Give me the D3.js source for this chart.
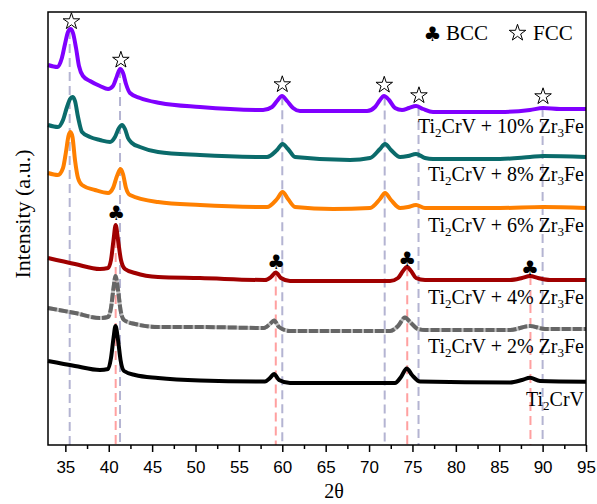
<!DOCTYPE html>
<html>
<head>
<meta charset="utf-8">
<script src="https://cdn.jsdelivr.net/npm/d3@7/dist/d3.min.js"></script>
<style>
    body { margin: 0; background: #fff; }
    svg { display: block; }
    .serif { font-family: "Liberation Serif", "Times New Roman", serif; fill: #000; }
    .x-axis .tick text { font-family: "Liberation Sans", Arial, sans-serif; font-size: 17px; fill: #000; }
    .x-axis .tick line { stroke: #000; stroke-width: 1.5; }
    .x-axis .domain { display: none; }
</style>
</head>
<body>
<svg id="chart" width="597" height="504"></svg>
<script>
// [2theta, intensity] pairs (intensity in arbitrary units)
const ti2crv = [
    [33.0, 84], [36.11, 79], [38.99, 75], [39.92, 76], [40.26, 87], [40.55, 107], [40.78, 119],
    [41.07, 105], [41.36, 85], [41.76, 74], [43.03, 70], [45.68, 67], [50.52, 64.5], [58.01, 63.5],
    [58.58, 67], [59.05, 71], [59.62, 65], [60.89, 62], [72.99, 62], [73.68, 68], [74.34, 76.5],
    [74.95, 70], [75.87, 63.5], [86.25, 62.5], [87.63, 65], [88.55, 67.3], [89.7, 64], [95.0, 63.3]
];
const zr3fe2 = [
    [33.0, 137], [36.11, 132], [38.99, 127], [39.92, 128], [40.26, 137], [40.55, 157], [40.78, 169],
    [41.07, 155], [41.36, 135], [41.76, 125], [43.03, 121], [45.68, 118], [50.52, 118], [57.89, 117],
    [58.58, 121], [59.05, 124.5], [59.62, 118], [60.89, 114], [72.42, 114], [73.34, 119], [74.14, 127.5],
    [74.72, 123], [75.64, 116], [76.45, 115], [86.25, 115], [88.55, 119], [90.28, 116], [95.0, 116]
];
const zr3fe4 = [
    [33.0, 187], [36.11, 181], [38.99, 176], [39.92, 177], [40.26, 185], [40.55, 205], [40.8, 220],
    [41.07, 205], [41.41, 185], [41.87, 176], [43.03, 172], [45.68, 168], [50.52, 167], [58.01, 165],
    [58.7, 168], [59.25, 172.5], [59.85, 167], [60.89, 164], [72.42, 164], [73.34, 167], [73.91, 174],
    [74.37, 178], [74.84, 174], [75.41, 167], [76.45, 165], [86.25, 165], [87.63, 167], [88.55, 169],
    [89.47, 167], [90.85, 165], [95.0, 165]
];
const zr3fe6 = [
    [33.0, 272], [34.15, 270], [34.73, 277], [35.07, 293], [35.36, 309], [35.59, 313], [35.82, 308],
    [36.11, 285], [36.46, 267], [36.92, 260], [38.42, 255], [39.92, 252], [40.49, 257], [40.95, 269],
    [41.36, 276], [41.64, 271], [41.99, 257], [42.45, 250], [45.68, 243], [50.52, 240], [58.24, 238],
    [59.39, 246], [60.03, 253], [60.66, 246], [61.47, 238], [65.85, 236], [70.11, 237], [71.26, 246],
    [71.84, 252], [72.53, 245], [73.57, 237], [74.49, 238], [75.41, 240], [76.45, 237], [77.37, 237],
    [85.09, 237], [90.05, 238], [95.0, 237]
];
const zr3fe8 = [
    [33.0, 320], [34.15, 318], [34.73, 325], [35.19, 338], [35.54, 346], [35.82, 348], [36.11, 344],
    [36.46, 328], [36.92, 313], [37.84, 308], [38.99, 305], [40.15, 303], [40.72, 308], [41.18, 317],
    [41.53, 320], [41.87, 316], [42.22, 307], [42.68, 302], [43.6, 298], [45.68, 293], [50.52, 290],
    [58.24, 288], [59.39, 295], [60.03, 301], [60.66, 296], [61.47, 288], [67.81, 285], [70.11, 287],
    [71.26, 296], [71.84, 301], [72.53, 295], [73.57, 288], [74.49, 289], [75.41, 291], [76.45, 287],
    [77.37, 286], [85.09, 286], [88.55, 288], [90.05, 289], [95.0, 288]
];
const zr3fe10 = [
    [33.0, 380], [34.1, 378], [34.6, 387], [34.96, 401], [35.3, 413], [35.59, 416], [35.88, 412],
    [36.23, 397], [36.57, 379], [37.03, 369], [37.84, 364], [38.99, 359], [39.92, 356], [40.49, 359],
    [40.95, 369], [41.3, 376], [41.65, 372], [41.99, 361], [42.45, 352], [43.6, 347], [45.91, 342],
    [50.52, 338], [57.78, 335], [58.82, 338], [59.39, 344], [59.97, 349], [60.55, 344], [61.24, 337],
    [62.04, 334], [69.77, 334], [70.69, 338], [71.26, 345], [71.72, 349], [72.3, 345], [72.99, 337],
    [73.8, 335], [74.6, 337], [75.41, 339], [76.22, 336], [77.37, 333], [85.09, 333], [88.55, 335],
    [90.05, 337], [92.01, 336], [95.0, 336]
];

// label pieces: even index = normal text, odd index = subscript
const labelParts = [
    ['Ti', '2', 'CrV'],
    ['Ti', '2', 'CrV + 2% Zr', '3', 'Fe'],
    ['Ti', '2', 'CrV + 4% Zr', '3', 'Fe'],
    ['Ti', '2', 'CrV + 6% Zr', '3', 'Fe'],
    ['Ti', '2', 'CrV + 8% Zr', '3', 'Fe'],
    ['Ti', '2', 'CrV + 10% Zr', '3', 'Fe']
];
const seriesColors = ['#000000', '#666666', '#a00000', '#ff8000', '#0b6b6b', '#8000ff'];

// reference peak positions (2theta)
const fccPeaks = [35.5, 41.3, 60.0, 71.8, 75.7, 90.0];
const bccPeaks = [40.8, 59.25, 74.4, 88.6];

// phase markers [2theta, intensity of marker centre]
const starMarks = [[35.7, 423.5], [41.4, 385], [60.0, 360.5], [71.75, 360], [75.75, 349.5], [90.05, 348.5]];
const clubMarks = [[40.85, 232], [59.3, 183.5], [74.4, 186.5], [88.55, 177.5]];

const xTicks = [35, 40, 45, 50, 55, 60, 65, 70, 75, 80, 85, 90, 95];
const xMinorTicks = [37.5, 42.5, 47.5, 52.5, 57.5, 62.5, 67.5, 72.5, 77.5, 82.5, 87.5, 92.5];

class XrdChart {
    constructor() {
        this.svg = d3.select('#chart');
        this.left = 48;
        this.right = 586;
        this.top = 12;
        this.bottom = 445;

        this.scaleX = d3.scaleLinear().domain([33, 95]).range([this.left, this.right]);
        this.scaleY = d3.scaleLinear().domain([0, 433]).range([this.bottom, this.top]);

        this.series = [ti2crv, zr3fe2, zr3fe4, zr3fe6, zr3fe8, zr3fe10].map((d, i) => ({
            values: d,
            color: seriesColors[i],
            parts: labelParts[i],
            dashed: i === 1
        }));

        this.line = d3.line()
            .x(d => this.scaleX(d[0]))
            .y(d => this.scaleY(d[1]))
            .curve(d3.curveMonotoneX);
    }

    // linear lookup of a pattern's intensity at some 2theta
    valueAt(values, t) {
        let i = d3.bisector(d => d[0]).left(values, t);
        if (i <= 0) return values[0][1];
        if (i >= values.length) return values[values.length - 1][1];
        let a = values[i - 1], b = values[i];
        return a[1] + (b[1] - a[1]) * (t - a[0]) / (b[0] - a[0]);
    }

    drawGuides() {
        let g = this.svg.append('g');
        let top = this.series[5].values;
        let bcc = this.series[2].values;

        g.selectAll('.fcc-guide')
            .data(fccPeaks)
            .join('line')
            .attr('class', 'fcc-guide')
            .attr('x1', d => this.scaleX(d))
            .attr('x2', d => this.scaleX(d))
            .attr('y1', d => this.scaleY(this.valueAt(top, d)))
            .attr('y2', this.bottom)
            .attr('stroke', '#b4b4d2')
            .attr('stroke-width', 2)
            .attr('stroke-dasharray', '9,5');

        g.selectAll('.bcc-guide')
            .data(bccPeaks)
            .join('line')
            .attr('class', 'bcc-guide')
            .attr('x1', d => this.scaleX(d))
            .attr('x2', d => this.scaleX(d))
            .attr('y1', d => this.scaleY(this.valueAt(bcc, d)))
            .attr('y2', this.bottom)
            .attr('stroke', '#ffa0a0')
            .attr('stroke-width', 2)
            .attr('stroke-dasharray', '9,5');
    }

    drawCurves() {
        let g = this.svg.append('g');
        for (let s of this.series) {
            if (s.dashed) {
                // light underlay so the dashed pattern reads as a broken grey band
                g.append('path')
                    .attr('d', this.line(s.values))
                    .attr('fill', 'none')
                    .attr('stroke', '#a8a8a8')
                    .attr('stroke-opacity', 0.7)
                    .attr('stroke-width', 4);
            }
            g.append('path')
                .attr('d', this.line(s.values))
                .attr('fill', 'none')
                .attr('stroke', s.color)
                .attr('stroke-width', 4)
                .attr('stroke-linejoin', 'round')
                .attr('stroke-dasharray', s.dashed ? '9,2' : null);
        }
    }

    drawLabels() {
        for (let s of this.series) {
            let last = s.values[s.values.length - 1];
            let label = this.svg.append('text')
                .attr('class', 'serif')
                .attr('x', 584)
                .attr('y', this.scaleY(last[1]) + 24)
                .attr('text-anchor', 'end')
                .attr('font-size', 20);
            s.parts.forEach((p, i) => {
                let sub = i % 2 === 1;
                label.append('tspan')
                    .attr('font-size', sub ? 13 : null)
                    .attr('dy', i === 0 ? 0 : (sub ? 4 : -4))
                    .text(p);
            });
        }
    }

    drawMarkers() {
        let star = d3.symbol().type(d3.symbolStar).size(85);
        this.svg.append('g')
            .selectAll('path')
            .data(starMarks)
            .join('path')
            .attr('d', star)
            .attr('transform', d => `translate(${this.scaleX(d[0])},${this.scaleY(d[1])})`)
            .attr('fill', '#fff')
            .attr('stroke', '#000')
            .attr('stroke-width', 1);

        this.svg.append('g')
            .selectAll('text')
            .data(clubMarks)
            .join('text')
            .attr('x', d => this.scaleX(d[0]))
            .attr('y', d => this.scaleY(d[1]) + 7)
            .attr('text-anchor', 'middle')
            .attr('font-family', 'DejaVu Sans')
            .attr('font-size', 20)
            .text('\u2663');
    }

    drawLegend() {
        let g = this.svg.append('g');
        g.append('text')
            .attr('x', 432.5).attr('y', 41)
            .attr('text-anchor', 'middle')
            .attr('font-family', 'DejaVu Sans')
            .attr('font-size', 20)
            .text('\u2663');
        g.append('text')
            .attr('class', 'serif')
            .attr('x', 446).attr('y', 40)
            .attr('font-size', 21)
            .text('BCC');
        g.append('path')
            .attr('d', d3.symbol().type(d3.symbolStar).size(85)())
            .attr('transform', 'translate(517.5,33)')
            .attr('fill', '#fff')
            .attr('stroke', '#000')
            .attr('stroke-width', 1);
        g.append('text')
            .attr('class', 'serif')
            .attr('x', 533).attr('y', 40)
            .attr('font-size', 21)
            .text('FCC');
    }

    drawAxes() {
        this.svg.append('g')
            .attr('class', 'x-axis')
            .attr('transform', `translate(0,${this.bottom})`)
            .call(d3.axisBottom(this.scaleX).tickValues(xTicks).tickSize(7).tickPadding(9));

        this.svg.append('g')
            .attr('class', 'x-axis')
            .attr('transform', `translate(0,${this.bottom})`)
            .call(d3.axisBottom(this.scaleX).tickValues(xMinorTicks).tickSize(4).tickFormat(''));

        // frame round the plot
        this.svg.append('rect')
            .attr('x', this.left)
            .attr('y', this.top)
            .attr('width', this.right - this.left)
            .attr('height', this.bottom - this.top)
            .attr('fill', 'none')
            .attr('stroke', '#000')
            .attr('stroke-width', 1.5);

        this.svg.append('text')
            .attr('class', 'serif')
            .attr('x', 334).attr('y', 498)
            .attr('text-anchor', 'middle')
            .attr('font-size', 20)
            .text('2\u03b8');

        this.svg.append('text')
            .attr('class', 'serif')
            .attr('transform', 'translate(30,214) rotate(-90)')
            .attr('text-anchor', 'middle')
            .attr('font-size', 22)
            .text('Intensity (a.u.)');
    }

    draw() {
        this.drawGuides();
        this.drawCurves();
        this.drawLabels();
        this.drawMarkers();
        this.drawLegend();
        this.drawAxes();
    }
}

new XrdChart().draw();
</script>
</body>
</html>
